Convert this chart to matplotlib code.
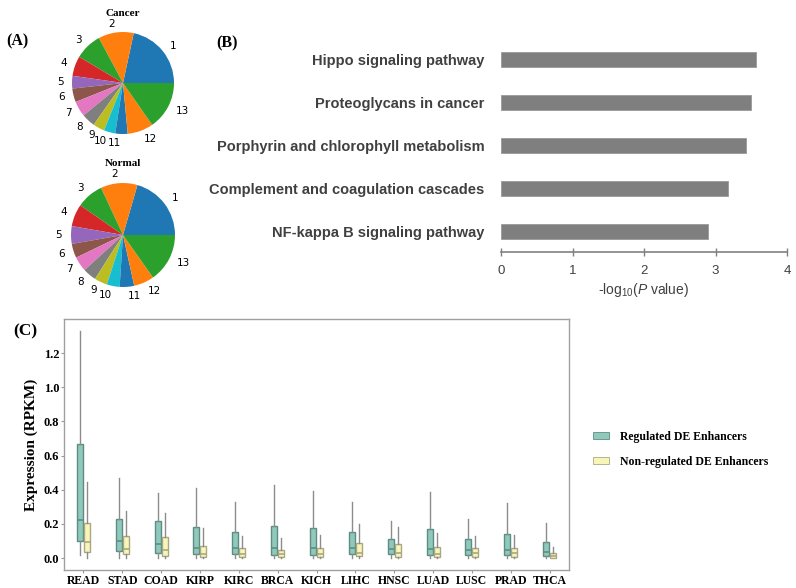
import numpy as np
import matplotlib
matplotlib.use('Agg')
import matplotlib.pyplot as plt
from matplotlib.patches import Patch

# ---- data ----
pie_labels = [str(i) for i in range(1, 14)]
cancer_share = [21.6, 11.2, 8.6, 6.3, 4.0, 4.3, 4.9, 4.3, 3.7, 3.6, 3.9, 8.2, 15.3]
normal_share = [20.5, 11.4, 8.4, 6.9, 5.5, 4.4, 4.6, 4.2, 4.0, 4.0, 4.5, 6.3, 15.2]

pathways = ['Hippo signaling pathway', 'Proteoglycans in cancer',
            'Porphyrin and chlorophyll metabolism',
            'Complement and coagulation cascades',
            'NF-kappa B signaling pathway']
neg_log_p = [3.56, 3.50, 3.43, 3.17, 2.89]

cancers = ['READ', 'STAD', 'COAD', 'KIRP', 'KIRC', 'BRCA', 'KICH',
           'LIHC', 'HNSC', 'LUAD', 'LUSC', 'PRAD', 'THCA']
reg_lo = [0.02, 0, 0, 0, 0, 0, 0, 0, 0, 0, 0, 0, 0]
reg_q1 = [0.10, 0.043, 0.031, 0.022, 0.025, 0.020, 0.018, 0.022, 0.022, 0.020, 0.018, 0.018, 0.013]
reg_med = [0.222, 0.100, 0.080, 0.060, 0.060, 0.057, 0.057, 0.057, 0.053, 0.055, 0.047, 0.047, 0.037]
reg_q3 = [0.67, 0.226, 0.216, 0.180, 0.152, 0.187, 0.177, 0.150, 0.111, 0.168, 0.109, 0.140, 0.094]
reg_hi = [1.33, 0.466, 0.382, 0.411, 0.330, 0.427, 0.394, 0.326, 0.216, 0.388, 0.226, 0.320, 0.206]

non_lo = [0, 0, 0, 0, 0, 0, 0, 0, 0, 0, 0, 0, 0]
non_q1 = [0.033, 0.022, 0.013, 0.006, 0.006, 0.006, 0.006, 0.012, 0.008, 0.008, 0.008, 0.008, 0.002]
non_med = [0.092, 0.051, 0.047, 0.022, 0.023, 0.022, 0.022, 0.031, 0.027, 0.022, 0.027, 0.027, 0.013]
non_q3 = [0.206, 0.129, 0.125, 0.072, 0.058, 0.050, 0.060, 0.090, 0.082, 0.064, 0.058, 0.060, 0.029]
non_hi = [0.446, 0.275, 0.265, 0.174, 0.129, 0.115, 0.135, 0.199, 0.183, 0.144, 0.131, 0.136, 0.066]

plt.rcParams['mathtext.fontset'] = 'custom'
plt.rcParams['mathtext.rm'] = 'Liberation Sans'
plt.rcParams['mathtext.it'] = 'Liberation Sans:italic'

serif = 'Liberation Serif'
sans = 'Liberation Sans'
txt_gray = '#404040'

fig = plt.figure(figsize=(7.96, 5.88), dpi=100)
W, H = 796.0, 588.0


def box(x, y, w, h):
    # pixel box (top-left origin) -> figure fraction
    return [x / W, 1 - (y + h) / H, w / W, h / H]


# ---- (A) pies ----
tab10 = plt.get_cmap('tab10').colors
pie_colors = [tab10[i % 10] for i in range(13)]

for share, cy, r, title, ty in [(cancer_share, 83, 51, 'Cancer', 13),
                                (normal_share, 235, 52, 'Normal', 163)]:
    side = 2.5 * r
    axp = fig.add_axes(box(123 - side / 2, cy - side / 2, side, side))
    axp.pie(share, labels=pie_labels, colors=pie_colors, startangle=0,
            counterclock=True, labeldistance=1.17,
            textprops={'fontsize': 7.5, 'family': 'DejaVu Sans'})
    fig.text(123 / W, 1 - ty / H, title, ha='center', va='center',
             family=serif, weight='bold', fontsize=8)

fig.text(17 / W, 1 - 41 / H, '(A)', ha='center', va='center',
         family=serif, weight='bold', fontsize=11.5)
fig.text(227 / W, 1 - 43 / H, '(B)', ha='center', va='center',
         family=serif, weight='bold', fontsize=11.5)
fig.text(25 / W, 1 - 331 / H, '(C)', ha='center', va='center',
         family=serif, weight='bold', fontsize=12.5)

# ---- (B) bars ----
axb = fig.add_axes(box(501, 39, 286, 213))
ypos = np.arange(len(pathways))
axb.barh(ypos, neg_log_p, height=0.34, color='#7f7f7f', edgecolor='#9a9a9a',
         linewidth=0.6)
axb.set_ylim(4.47, -0.47)
axb.set_xlim(0, 4)
axb.set_yticks(ypos)
axb.set_yticklabels(pathways, family=sans, weight='bold', fontsize=10.5,
                    color=txt_gray)
axb.tick_params(axis='y', length=0, pad=12)
axb.set_xticks([0, 1, 2, 3, 4])
axb.tick_params(axis='x', direction='inout', length=6, width=1,
                color='#808080', labelsize=9.5, labelcolor=txt_gray, pad=6)
for lbl in axb.get_xticklabels():
    lbl.set_family(sans)
for s in ['top', 'right', 'left']:
    axb.spines[s].set_visible(False)
axb.spines['bottom'].set_color('#808080')
axb.spines['bottom'].set_linewidth(1.2)
axb.set_xlabel(r'-log$_{10}$($\it{P}$ value)', family=sans, fontsize=10,
               color=txt_gray, labelpad=3)

# ---- (C) boxes ----
axc = fig.add_axes(box(64, 319, 505, 251))
teal, teal_edge = '#8fc9bc', '#5e8c83'
yel, yel_edge = '#f8f5b9', '#a9a784'
x = np.arange(len(cancers))
off, bw = 0.09, 0.155

reg_stats = [dict(whislo=a, q1=b, med=c, q3=d, whishi=e)
             for a, b, c, d, e in zip(reg_lo, reg_q1, reg_med, reg_q3, reg_hi)]
non_stats = [dict(whislo=a, q1=b, med=c, q3=d, whishi=e)
             for a, b, c, d, e in zip(non_lo, non_q1, non_med, non_q3, non_hi)]

for stats, pos, fc, ec in [(reg_stats, x - off, teal, teal_edge),
                           (non_stats, x + off, yel, yel_edge)]:
    axc.bxp(stats, positions=pos, widths=bw, patch_artist=True,
            showfliers=False, showcaps=False,
            boxprops=dict(facecolor=fc, edgecolor=ec, linewidth=1),
            whiskerprops=dict(color='#8c8c8c', linewidth=1),
            medianprops=dict(color=ec, linewidth=1.2))

axc.set_xlim(-0.5, len(cancers) - 0.5)
axc.set_ylim(-0.07, 1.40)
axc.set_xticks(x)
axc.set_xticklabels(cancers, family=serif, weight='bold', fontsize=8.5)
axc.set_yticks(np.arange(0, 1.21, 0.2))
axc.set_yticklabels([f'{v:.1f}' for v in np.arange(0, 1.21, 0.2)],
                    family=serif, weight='bold', fontsize=9)
axc.tick_params(axis='both', length=2, width=0.8, color='#999999', pad=1.5)
for s in axc.spines.values():
    s.set_color('#a0a0a0')
    s.set_linewidth(1)
axc.set_ylabel('Expression (RPKM)', family=serif, weight='bold', fontsize=11,
               labelpad=4)

handles = [Patch(facecolor=teal, edgecolor=teal_edge, linewidth=0.6),
           Patch(facecolor=yel, edgecolor=yel_edge, linewidth=0.6)]
fig.legend(handles, ['Regulated DE Enhancers', 'Non-regulated DE Enhancers'],
           loc='upper left', bbox_to_anchor=(582 / W, 1 - 420 / H),
           frameon=False, handlelength=1.4, handleheight=0.45,
           handletextpad=0.9, labelspacing=1.1,
           prop={'family': serif, 'weight': 'bold', 'size': 8.5})

fig.savefig('out.png', dpi=100)
